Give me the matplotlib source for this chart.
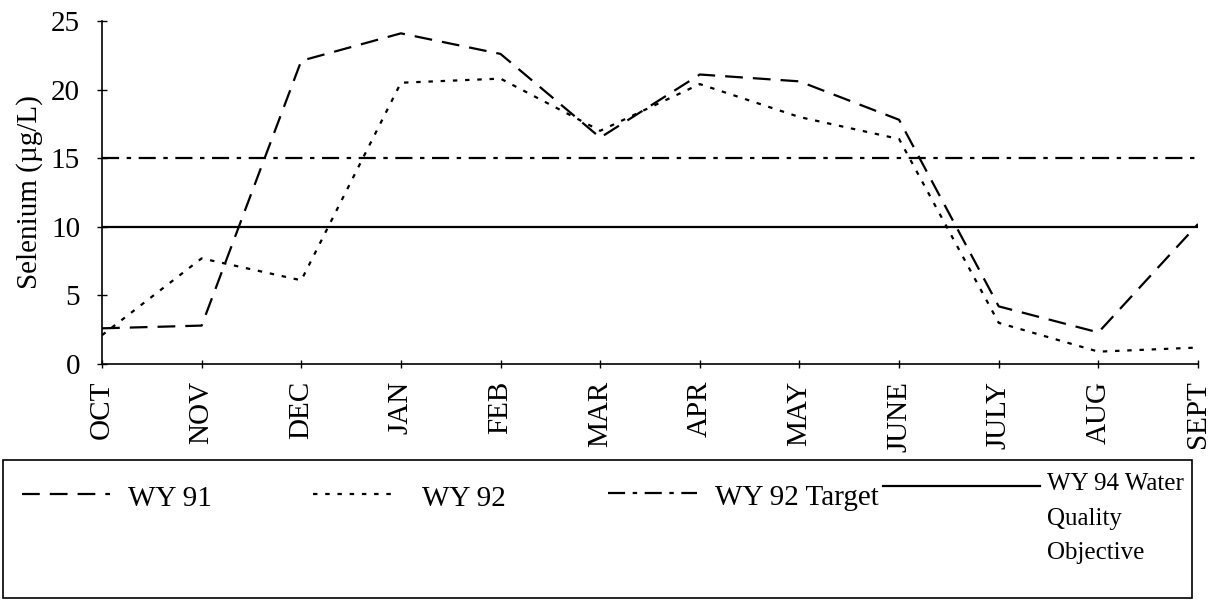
import matplotlib
matplotlib.use("Agg")
import matplotlib.pyplot as plt
from matplotlib.lines import Line2D
from matplotlib.patches import Rectangle

months = ["OCT", "NOV", "DEC", "JAN", "FEB", "MAR", "APR", "MAY", "JUNE", "JULY", "AUG", "SEPT"]
wy91 = [2.6, 2.8, 22.1, 24.1, 22.6, 16.5, 21.1, 20.6, 17.8, 4.2, 2.3, 10.2]
wy92 = [2.1, 7.7, 6.1, 20.5, 20.8, 17.0, 20.4, 18.0, 16.4, 3.0, 0.9, 1.2]
wy92_target = [15, 15, 15, 15, 15, 15, 15, 15, 15, 15, 15, 15]
wy94_objective = [10, 10, 10, 10, 10, 10, 10, 10, 10, 10, 10, 10]

W, H = 1213, 605
FS = 21
plt.rcParams["font.family"] = ["Liberation Serif", "DejaVu Serif"]

STYLES = {
    "WY 91": dict(ls=(0, (8, 4.5))),
    "WY 92": dict(ls=(0, (2, 3.5))),
    "WY 92 Target": dict(ls=(0, (7.7, 3.4, 2, 3.4))),
    "WY 94 Water\nQuality\nObjective": dict(ls="-"),
}


def fx(px):
    return px / W


def fy(py):
    return 1 - py / H


fig = plt.figure(figsize=(W / 100, H / 100), dpi=100)
ax = fig.add_axes([fx(102), fy(364), fx(1198) - fx(102), fy(21) - fy(364)])

x = list(range(len(months)))
series = [wy91, wy92, wy92_target, wy94_objective]
for (label, style), values in zip(STYLES.items(), series):
    ax.plot(x, values, color="black", lw=1.6, **style)

ax.set_xlim(0, len(months) - 1)
ax.set_ylim(0, 25)
ax.set_yticks([0, 5, 10, 15, 20, 25])
ax.set_xticks(x, labels=months, rotation=90)
for side in ("top", "right"):
    ax.spines[side].set_visible(False)
for side in ("left", "bottom"):
    ax.spines[side].set_linewidth(1.2)
ax.tick_params(axis="y", direction="inout", length=7.5, width=1, pad=12, labelsize=FS)
ax.tick_params(axis="x", direction="inout", length=6, width=1, pad=9, labelsize=FS)
ax.set_ylabel("Selenium (\u00b5g/L)", fontsize=FS)
ax.yaxis.set_label_coords(-0.0535, 0.5)

# legend box drawn by hand to match the original layout
fig.add_artist(Rectangle((fx(3), fy(598)), fx(1192) - fx(3), fy(460) - fy(598),
                         transform=fig.transFigure, fill=False, lw=1.2, ec="black"))
handles = [(22, 110, 494), (313, 397, 494), (608, 697, 493), (883, 1040, 486)]
text_pos = [(128, 506), (422, 506), (715, 505), (1047, 490)]
for (label, style), (x0, x1, hy), (tx, ty) in zip(STYLES.items(), handles, text_pos):
    fig.add_artist(Line2D([fx(x0), fx(x1)], [fy(hy), fy(hy)], transform=fig.transFigure,
                          color="black", lw=1.6, **style))
    if "\n" in label:
        fig.text(fx(tx), fy(ty - 17), label, fontsize=18, va="top", ha="left",
                 linespacing=1.75)
    else:
        fig.text(fx(tx), fy(ty), label, fontsize=FS, va="baseline", ha="left")

fig.savefig("out.png", dpi=100)
